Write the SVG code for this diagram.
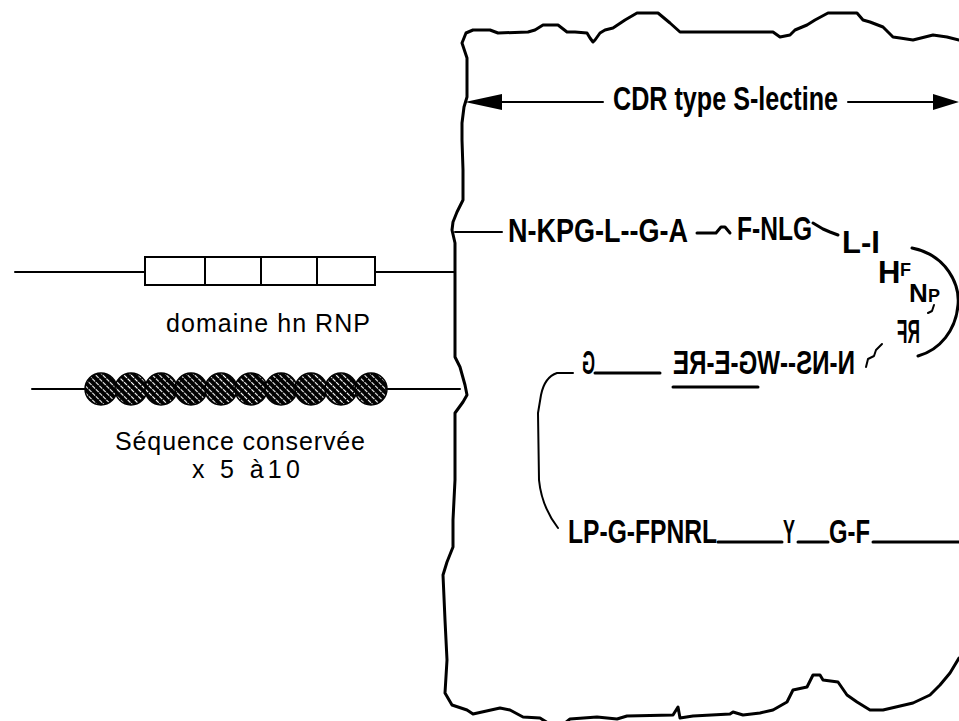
<svg xmlns="http://www.w3.org/2000/svg" width="959" height="721" viewBox="0 0 959 721">
  <style>
    .ln { fill: none; stroke: #000; stroke-width: 2; stroke-linejoin: round; stroke-linecap: round; }
    .thick { fill: none; stroke: #000; stroke-width: 3; stroke-linejoin: round; stroke-linecap: round; }
    .seq { font-family: "Liberation Sans", Arial, sans-serif; font-weight: bold; font-size: 33px; fill: #000; }
    .lbl { font-family: "Liberation Sans", Arial, sans-serif; font-size: 25px; fill: #000; }
  </style>
  <defs>
    <pattern id="hatch" patternUnits="userSpaceOnUse" width="5" height="5" patternTransform="rotate(-45)">
      <rect width="5" height="5" fill="#000"/>
      <line x1="2.5" y1="0" x2="2.5" y2="5" stroke="#fff" stroke-width="1.1" stroke-dasharray="2 1"/>
    </pattern>
  </defs>

  <!-- torn-edge frame around the lectin domain -->
  <g id="frame">
    <path class="thick" d="M959,40 L947,37 L933,35 L913,40 L900,38 L893,37 L883,27 L870,22 L863,20 L857,13 L828,13 L815,20 L807,25 L795,30 L790,35 L780,37 L773,32 L680,32 L670,23 L658,13 L637,13 L625,20 L613,28 L605,30 L600,33 L595,40 L593,42 L590,38 L587,33 L575,32 L567,32 L558,25 L543,25 L535,30 L528,32 L498,33 L490,30 L473,30 L466,33 L462,43 L467,58 L467,97 L464,107 L462,123 L462,140 L463,170 L463,200 L457,212 L453,222 L452,230 L455,243 L455,357 L460,367 L465,385 L467,395 L463,402 L455,413 L455,480 L453,520 L453,547 L447,562 L443,575 L445,620 L447,660 L445,693 L452,705 L467,710 L473,714 L500,708 L510,710 L523,717 L540,718 L548,723"/>
    <path class="thick" d="M565,723 L570,719 L597,717 L617,719 L627,716 L673,715 L678,707 L680,718 L693,716 L730,714 L733,712 L743,715 L760,713 L773,710 L787,702 L793,690 L807,687 L813,675 L820,675 L823,680 L838,682 L847,695 L857,702 L870,710 L883,710 L913,703 L930,695 L940,685 L950,673 L959,658"/>
  </g>

  <!-- hnRNP domain -->
  <g id="hnrnp">
    <rect x="145" y="257" width="230" height="28" fill="#fff" stroke="#000" stroke-width="2"/>
    <path class="ln" d="M205,257 V285 M261,257 V285 M317,257 V285"/>
    <text class="lbl" x="166" y="332" textLength="204" lengthAdjust="spacing">domaine hn RNP</text>
  </g>

  <!-- conserved repeat -->
  <g id="repeats">
    <g fill="url(#hatch)" stroke="#000" stroke-width="1.5">
      <circle cx="101" cy="389" r="16"/>
      <circle cx="131" cy="389" r="16"/>
      <circle cx="161" cy="389" r="16"/>
      <circle cx="191" cy="389" r="16"/>
      <circle cx="221" cy="389" r="16"/>
      <circle cx="251" cy="389" r="16"/>
      <circle cx="281" cy="389" r="16"/>
      <circle cx="311" cy="389" r="16"/>
      <circle cx="341" cy="389" r="16"/>
      <circle cx="371" cy="389" r="16"/>
    </g>
    <text class="lbl" x="115" y="450" textLength="250" lengthAdjust="spacing">Séquence conservée</text>
    <text class="lbl" x="192" y="478" textLength="108" lengthAdjust="spacing">x 5 à10</text>
  </g>

  <!-- CDR extent -->
  <g id="cdr-label">
    <text class="seq" x="613" y="110" textLength="225" lengthAdjust="spacingAndGlyphs">CDR type S-lectine</text>
  </g>

  <!-- S-lectin sequence -->
  <g id="sequence">
    <text class="seq" x="508" y="242" textLength="180" lengthAdjust="spacingAndGlyphs">N-KPG-L--G-A</text>
    <text class="seq" x="737" y="240" textLength="75" lengthAdjust="spacingAndGlyphs">F-NLG</text>
    <!-- residues stepping down round the turn -->
    <text class="seq"><tspan x="842" y="253" font-size="31">L-I</tspan><tspan x="878" y="283" font-size="31">H</tspan><tspan x="900" y="276" font-size="18">F</tspan><tspan x="909" y="302" font-size="26">N</tspan><tspan x="928" y="302" font-size="18">P</tspan></text>
    <!-- return strand, printed mirror-wise -->
    <g transform="scale(-1,1)">
      <text class="seq" x="-920" y="343" font-size="28" textLength="23" lengthAdjust="spacingAndGlyphs">RF</text>
      <text class="seq" x="-855" y="374" textLength="182" lengthAdjust="spacingAndGlyphs">N-NS--WG-E-RE</text>
      <text class="seq" x="-595" y="374" textLength="13" lengthAdjust="spacingAndGlyphs">G</text>
    </g>
    <text class="seq" x="568" y="543" textLength="149" lengthAdjust="spacingAndGlyphs">LP-G-FPNRL</text>
    <text class="seq" x="783" y="543" textLength="12" lengthAdjust="spacingAndGlyphs">Y</text>
    <text class="seq" x="829" y="543" textLength="41" lengthAdjust="spacingAndGlyphs">G-F</text>
  </g>

  <!-- connectors -->
  <g id="connectors">
    <path class="ln" d="M15,272 H145 M375,272 H455"/>
    <path class="ln" d="M32,389 H86 M386,389 H460"/>
    <path class="ln" d="M455,232 H502"/>
    <path class="ln" d="M500,102 H603"/>
    <path class="ln" d="M848,102 H935"/>
    <path d="M465,102 L502,94 L502,110 Z M959,102 L933,94 L933,110 Z" fill="#000"/>
    <path class="thick" d="M697,233 H716 L721,227 H725 L730,233"/>
    <path class="thick" d="M813,223 L823,229 L830,232 L838,235"/>
    <path class="ln" d="M934,305 L932,311 L928,313"/>
    <path class="ln" d="M866,367 L868,359 L874,356 L876,350 L882,344"/>
    <path class="thick" d="M912,248 C947,255 960,285 958,305 C956,330 940,350 918,356"/>
    <path class="thick" d="M595,373 H660"/>
    <path class="thick" d="M673,387 H758"/>
    <path class="ln" d="M573,373 H557 C548,376 543,385 541,395 L538,413 L539,480 C541,500 548,515 558,528"/>
    <path class="thick" d="M718,542 H782 M798,542 H828 M873,542 H959"/>
  </g>
</svg>
